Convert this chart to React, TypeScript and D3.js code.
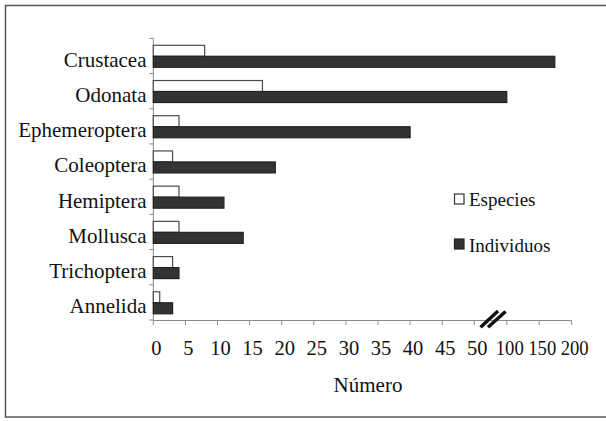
import React from "react";
import * as d3 from "d3";

const categories = ["Crustacea", "Odonata", "Ephemeroptera", "Coleoptera", "Hemiptera", "Mollusca", "Trichoptera", "Annelida"];
const especies = [8, 17, 4, 3, 4, 4, 3, 1];
const individuos = [174, 100, 40, 19, 11, 14, 4, 3];
const xTicks = [0, 5, 10, 15, 20, 25, 30, 35, 40, 45, 50, 100, 150, 200];
const seriesNames = ["Especies", "Individuos"];
const axisTitle = "Número";

const W = 606;
const H = 421;
const FONT = "Liberation Serif, Tinos, DejaVu Serif, serif";

export default function App() {
  const x = d3.scaleLinear().domain([0, 50, 200]).range([153.3, 474.3, 571.7]);
  const y = d3.scaleBand<string>().domain(categories).range([38.3, 320]).padding(0);
  const bw = y.bandwidth();
  const barH = 11;
  const off = (bw - 2 * barH) / 2 + 0.4;
  const axisY = 320.5;
  const axisColor = "#8a8a8a";
  const breakX = (x(50) + x(100)) / 2;
  const txt = { fontFamily: FONT };

  return (
    <svg width={W} height={H} style={{ position: "absolute", left: 0, top: 0, background: "#fff", fontFamily: FONT }}>
      <defs>
        <clipPath id="clipR">
          <rect x={0} y={0} width={595} height={H} />
        </clipPath>
      </defs>
      {/* frame */}
      <path d={`M${W + 2},5.5 H5.5 V417 H${W + 2}`} fill="none" stroke="#555" strokeWidth={1.5} />

      {/* y axis */}
      <line x1={x(0)} x2={x(0)} y1={38.3} y2={axisY} stroke={axisColor} strokeWidth={1} />
      {d3.range(categories.length + 1).map((i) => {
        const yy = 38.3 + i * bw;
        return <line key={"yt" + i} x1={x(0) - 4} x2={x(0)} y1={yy} y2={yy} stroke={axisColor} strokeWidth={1} />;
      })}

      {/* x axis */}
      <line x1={x(0)} x2={x(200)} y1={axisY} y2={axisY} stroke={axisColor} strokeWidth={1} />
      {xTicks.map((t) => (
        <line key={"xt" + t} x1={x(t)} x2={x(t)} y1={axisY} y2={axisY + 4.5} stroke={axisColor} strokeWidth={1} />
      ))}
      <g clipPath="url(#clipR)">
        {xTicks.map((t) =>
          t >= 100 ? (
            <text key={"xl" + t} x={x(t) + 3} y={355} textAnchor="middle" style={txt} fontSize={20} fill="#111" textLength={28} lengthAdjust="spacingAndGlyphs">
              {t}
            </text>
          ) : (
            <text key={"xl" + t} x={x(t) + 3} y={355} textAnchor="middle" style={txt} fontSize={20.5} fill="#111">
              {t}
            </text>
          )
        )}
      </g>

      {/* bars */}
      {categories.map((c, i) => {
        const y0 = y(c)!;
        return (
          <g key={c}>
            <rect x={x(0)} y={y0 + off} width={x(especies[i]) - x(0)} height={barH} fill="#fff" stroke="#4a4a4a" strokeWidth={1.2} />
            <rect x={x(0)} y={y0 + off + barH} width={x(individuos[i]) - x(0)} height={barH} fill="#333" stroke="#222" strokeWidth={1.2} />
            <text x={146.5} y={y0 + 28.5} textAnchor="end" style={txt} fontSize={21} fill="#111">
              {c}
            </text>
          </g>
        );
      })}

      {/* axis break */}
      <line x1={breakX - 10} y1={327.3} x2={breakX + 7.5} y2={311} stroke="#111" strokeWidth={3.5} />
      <line x1={breakX - 2.5} y1={327.3} x2={breakX + 15} y2={311.5} stroke="#111" strokeWidth={3.5} />

      {/* legend */}
      <rect x={454.5} y={194} width={9.5} height={10} fill="#fff" stroke="#333" strokeWidth={1.2} />
      <text x={469} y={206} style={txt} fontSize={19} fill="#111">{seriesNames[0]}</text>
      <rect x={454.5} y={239} width={9.5} height={10} fill="#333" stroke="#222" strokeWidth={1.2} />
      <text x={469} y={251.5} style={txt} fontSize={19} fill="#111">{seriesNames[1]}</text>

      {/* axis title */}
      <text x={368} y={392} textAnchor="middle" style={txt} fontSize={21} fill="#111">{axisTitle}</text>
    </svg>
  );
}
